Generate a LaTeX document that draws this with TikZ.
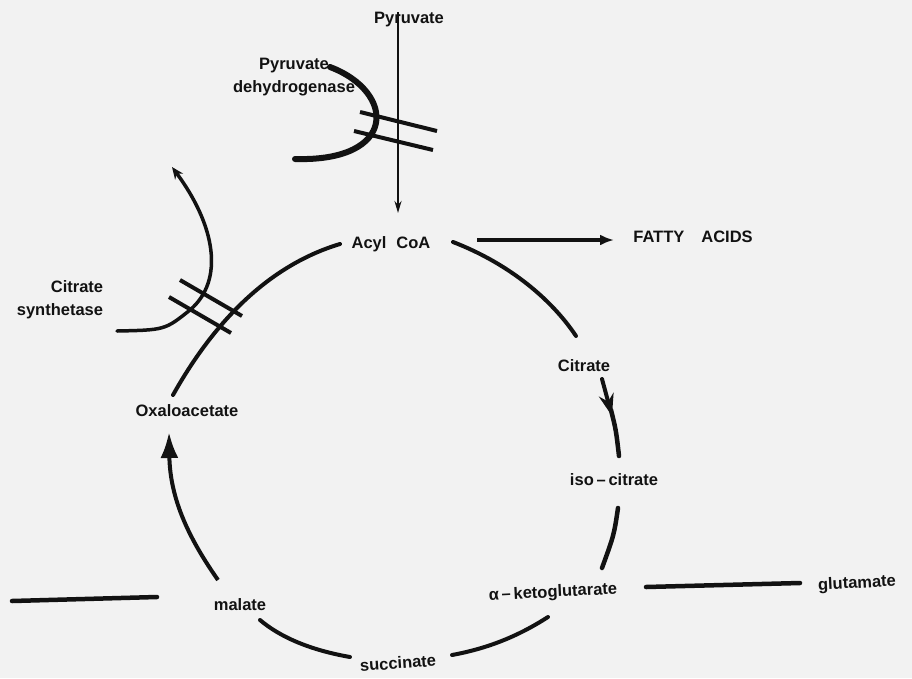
\documentclass[tikz,border=0pt]{standalone}
\usepackage{fontspec}
\setmainfont{Liberation Sans}
\usetikzlibrary{arrows.meta}
\definecolor{bg}{RGB}{242,242,242}
\definecolor{ink}{RGB}{18,18,18}
\begin{document}
\begin{tikzpicture}[x=1pt,y=-1pt,
  lbl/.style={font=\bfseries\fontsize{16.5}{23}\selectfont, text=ink, inner sep=0pt},
  cyc/.style={draw=ink, line width=4pt, line cap=round},
  bar/.style={draw=ink, line width=4pt},
  enz/.style={draw=ink, line width=6pt, line cap=round},
  thin/.style={draw=ink, line width=2.4pt},
  side/.style={draw=ink, line width=4.5pt, line cap=round}
]
\fill[bg] (0,0) rectangle (912,678);
\useasboundingbox (0,0) rectangle (912,678);

% labels
\node[lbl] (pyr) at (409,20) {Pyruvate};
\node[lbl, align=center] (pdh) at (294,77) {Pyruvate\\dehydrogenase};
\node[lbl] (acyl) at (391,244) {Acyl\hspace{10pt}CoA};
\node[lbl] (fa) at (693,237) {FATTY\hspace{17pt}ACIDS};
\node[lbl] (cit) at (584,366) {Citrate};
\node[lbl] (iso) at (614,480) {iso\,–\,citrate};
\node[lbl, rotate=3] (akg) at (553,593) {α\,–\,ketoglutarate};
\node[lbl, rotate=3] (glu) at (857,584) {glutamate};
\node[lbl, rotate=4] (suc) at (398,663) {succinate};
\node[lbl] (mal) at (240,605) {malate};
\node[lbl] (oaa) at (187,411) {Oxaloacetate};
\node[lbl, align=right] (cs) at (60,300) {Citrate\\synthetase};

% named end points
\coordinate (pyrS) at (398,12);
\coordinate (pyrE) at (398,213);
\coordinate (faS) at (477,240);
\coordinate (faE) at (614,240);
\coordinate (acylE) at (453,242);
\coordinate (citN) at (576,336);
\coordinate (citS) at (602,379);
\coordinate (citA) at (612,416);
\coordinate (isoN) at (619,456);
\coordinate (isoS) at (618,508);
\coordinate (akgN) at (602,568);
\coordinate (akgS) at (548,617);
\coordinate (sucE) at (452,655);
\coordinate (sucW) at (350,657);
\coordinate (malE) at (260,620);
\coordinate (malN) at (218,580);
\coordinate (oaaS) at (169,432);
\coordinate (oaaN) at (173,395);
\coordinate (acylW) at (340,244);
\coordinate (leftA) at (12,601);
\coordinate (leftB) at (157,597);
\coordinate (gluA) at (646,587);
\coordinate (gluB) at (800,583);
\coordinate (pdhA) at (330,67);
\coordinate (pdhB) at (295,159);
\coordinate (csA) at (172,167);
\coordinate (csB) at (117,331);

% pyruvate -> acyl CoA
\draw[thin, -{Stealth[length=12pt,width=7pt]}] (pyrS) -- (pyrE);
% acyl CoA -> fatty acids
\draw[draw=ink, line width=4pt, -{Latex[length=14pt,width=11pt]}] (faS) -- (faE);

% cycle
\draw[cyc] (acylE) .. controls (510,264) and (552,300) .. (citN);
\draw[cyc, -{Stealth[length=22pt,width=15pt]}] (citS) -- (citA);
\draw[cyc, line width=4.5pt] (611,410) .. controls (616,430) .. (isoN);
\draw[cyc, line width=4.5pt] (isoS) .. controls (614,535) .. (akgN);
\draw[cyc] (akgS) .. controls (520,635) and (490,648) .. (sucE);
\draw[cyc] (sucW) .. controls (310,650) and (280,637) .. (malE);
\draw[cyc, line cap=butt, -{Latex[length=26pt,width=18pt]}] (malN) .. controls (190,540) and (170,500) .. (oaaS);
\draw[cyc] (oaaN) .. controls (215,320) and (270,265) .. (acylW);

% side lines
\draw[side] (leftA) -- (leftB);
\draw[side] (gluA) -- (gluB);

% pyruvate dehydrogenase
\draw[enz] (pdhA) .. controls (396,92) and (398,162) .. (pdhB);
\draw[bar] (360,112) -- (437,131);
\draw[bar] (354,131) -- (433,150);

% citrate synthetase
\draw[draw=ink, line width=3.5pt, line cap=round, {Stealth[length=12pt,width=10pt]}-] (csA) .. controls (215,225) and (225,280) .. (190,310) .. controls (165,330) .. (csB);
\draw[bar] (180,280) -- (242,316);
\draw[bar] (169,297) -- (231,333);
\end{tikzpicture}
\end{document}
